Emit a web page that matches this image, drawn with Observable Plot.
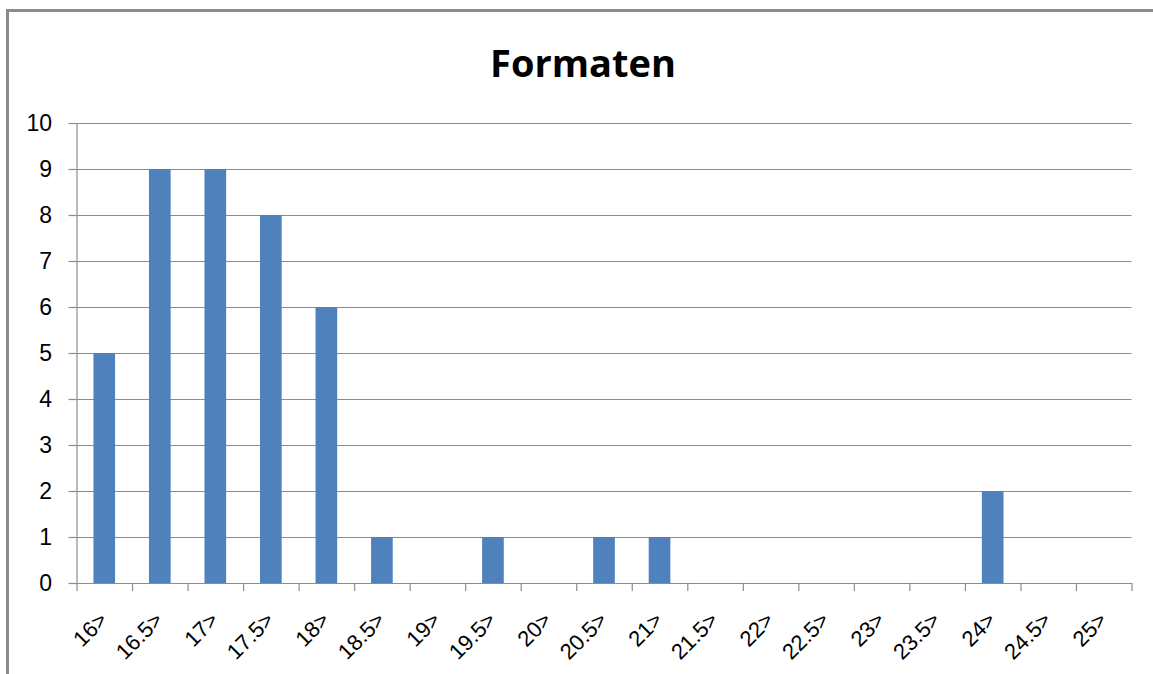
<!DOCTYPE html>
<html>
<head>
<meta charset="utf-8">
<script src="https://cdn.jsdelivr.net/npm/d3@7"></script>
<script src="https://cdn.jsdelivr.net/npm/@observablehq/plot@0.6"></script>
<style>
  html, body { margin: 0; padding: 0; background: #fff; }
  #wrap { position: relative; width: 1153px; height: 674px; overflow: hidden; }
  #border { position: absolute; left: 6px; top: 9px; width: 1200px; height: 700px; border-left: 3px solid #8c8c8c; border-top: 3px solid #8c8c8c; box-sizing: border-box; }
  #title { position: absolute; left: 0; width: 1166px; top: 36px; text-align: center; font-family: "Open Sans", sans-serif; font-weight: bold; font-size: 38px; line-height: 52px; color: #000; }
  #chart { position: absolute; left: 0; top: 100px; }
</style>
</head>
<body>
<div id="wrap">
  <div id="border"></div>
  <div id="title">Formaten</div>
  <div id="chart"></div>
</div>
<script>
const categories = ["16>", "16.5>", "17>", "17.5>", "18>", "18.5>", "19>", "19.5>", "20>", "20.5>", "21>", "21.5>", "22>", "22.5>", "23>", "23.5>", "24>", "24.5>", "25>"];
const counts = [5, 9, 9, 8, 6, 1, 0, 1, 0, 1, 1, 0, 0, 0, 0, 0, 2, 0, 0];
const yTicks = [0, 1, 2, 3, 4, 5, 6, 7, 8, 9, 10];

const data = categories.map((c, i) => ({cat: c, value: counts[i]}));

const W = 1153, H = 574;
const mL = 76.5, mR = 21.5, mT = 23, mB = 91;
const step = (W - mL - mR) / categories.length;
const grid = "#8c8c8c";

const chart = Plot.plot({
  width: W,
  height: H,
  marginLeft: mL,
  marginRight: mR,
  marginTop: mT,
  marginBottom: mB,
  style: {fontFamily: "'Liberation Sans', sans-serif", background: "transparent", overflow: "visible"},
  x: {domain: categories, paddingInner: 0.61, paddingOuter: 0.305, align: 0.5, round: false},
  y: {domain: [0, 10], ticks: yTicks},
  marks: [
    Plot.gridY(yTicks, {stroke: grid, strokeOpacity: 1, strokeWidth: 1.2}),
    Plot.axisY(yTicks, {tickSize: 8, tickPadding: 17, stroke: grid, strokeWidth: 1.2, fontSize: 23, fill: "#000", label: null, tickFormat: d => String(d)}),
    Plot.barY(data, {x: "cat", y: "value", fill: "#4F81BD"}),
    Plot.frame({anchor: "left", stroke: grid, strokeWidth: 1.2}),
    Plot.ruleY([0], {stroke: grid, strokeWidth: 1.2}),
    Plot.axisX(categories, {tickSize: 8, tickFormat: null, stroke: grid, strokeWidth: 1.2, dx: -step / 2, label: null}),
    Plot.axisX([categories[categories.length - 1]], {tickSize: 8, tickFormat: null, stroke: grid, strokeWidth: 1.2, dx: step / 2, label: null}),
    Plot.axisX(categories, {tickSize: 0, tickPadding: 33, tickRotate: -45, fontSize: 22, fill: "#000", label: null, dx: -1})
  ]
});
document.getElementById("chart").appendChild(chart);
</script>
</body>
</html>
